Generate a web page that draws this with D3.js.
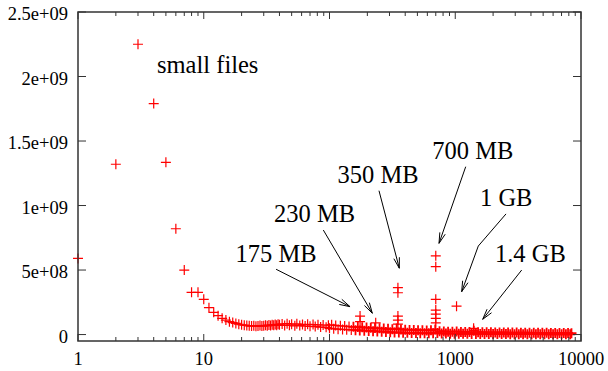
<!DOCTYPE html>
<html>
<head>
<meta charset="utf-8">
<script src="https://cdn.jsdelivr.net/npm/d3@7"></script>
<style>
  body { margin: 0; background: #fff; }
</style>
</head>
<body>
<div id="chart"></div>
<script>
const margin = { top: 12, left: 78, right: 27, bottom: 30 }

const width = 608 - margin.left - margin.right
const height = 371 - margin.top - margin.bottom

const font = '"Liberation Serif"'

// file size (MB) vs bytes
const smallSizes = [
  1, 2, 3, 4, 5, 6, 7, 8, 9, 10,
  11, 12, 13, 14, 15, 16, 17, 18, 19, 20,
  21, 22, 23, 24, 25, 26, 27, 28, 29, 30,
  31, 32, 33, 34, 35, 36, 37, 38, 39, 40
]
const smallCounts = [
  5.9e8, 1.32e9, 2.25e9, 1.79e9, 1.335e9, 8.2e8, 5.0e8, 3.27e8, 3.27e8, 2.73e8,
  2.08e8, 1.72e8, 1.46e8, 1.26e8, 1.12e8, 1.0e8, 9.3e7, 8.6e7, 8.0e7, 7.6e7,
  7.3e7, 7.0e7, 6.8e7, 6.6e7, 6.9e7, 6.5e7, 6.7e7, 7.0e7, 6.6e7, 6.9e7,
  7.2e7, 6.8e7, 7.4e7, 7.0e7, 7.6e7, 7.2e7, 7.8e7, 7.3e7, 8.0e7, 7.5e7
]

const bandSizes = [
  42, 44, 46, 48, 50, 53, 55, 58, 61, 64,
  67, 70, 74, 77, 81, 85, 89, 94, 98, 100,
  104, 108, 112, 117, 122, 127, 132, 137, 143, 149,
  155, 161, 168, 174, 182, 189, 197, 205, 213, 222,
  230, 240, 250, 260, 270, 281, 292, 304, 316, 329,
  342, 356, 370, 385, 400, 416, 433, 450, 468, 487,
  506, 527, 548, 570, 593, 616, 641, 667, 693, 721,
  750, 780, 811, 843, 877, 912, 949, 987, 1026, 1067,
  1110, 1154, 1200, 1248, 1298, 1350, 1404, 1460, 1519, 1580,
  1643, 1709, 1777, 1848, 1922, 1999, 2079, 2162, 2249, 2339,
  2432, 2530, 2631, 2736, 2846, 2959, 3078, 3201, 3329, 3462,
  3600, 3744, 3894, 4050, 4212, 4380, 4555, 4738, 4927, 5124,
  5329, 5542, 5764, 5995, 6234, 6484, 6743, 7013, 7293, 7585,
  7888, 8204, 8400
]
const bandCounts = [
  8.2e7, 7.0e7, 8.4e7, 7.2e7, 8.0e7, 6.8e7, 8.3e7, 7.1e7, 7.8e7, 6.6e7,
  7.9e7, 6.4e7, 7.7e7, 6.2e7, 7.5e7, 5.8e7, 7.4e7, 5.6e7, 7.2e7, 4.8e7,
  7.6e7, 4.4e7, 7.0e7, 4.2e7, 6.8e7, 4.0e7, 6.6e7, 3.8e7, 6.2e7, 3.6e7,
  6.0e7, 3.4e7, 5.8e7, 3.2e7, 5.6e7, 3.0e7, 5.4e7, 2.8e7, 5.2e7, 2.6e7,
  5.0e7, 2.4e7, 4.8e7, 2.2e7, 4.6e7, 2.0e7, 4.4e7, 1.8e7, 4.2e7, 1.6e7,
  4.6e7, 1.5e7, 4.0e7, 1.4e7, 3.8e7, 1.3e7, 3.6e7, 1.2e7, 3.6e7, 1.2e7,
  3.4e7, 1.1e7, 3.4e7, 1.0e7, 3.2e7, 1.0e7, 3.4e7, 1.0e7, 4.0e7, 1.2e7,
  2.6e7, 8e6, 2.4e7, 8e6, 2.2e7, 7e6, 2.2e7, 7e6, 2.4e7, 6e6,
  2.0e7, 6e6, 2.0e7, 6e6, 1.9e7, 5e6, 3.0e7, 5e6, 1.8e7, 5e6,
  1.8e7, 5e6, 1.7e7, 4e6, 1.7e7, 4e6, 1.6e7, 4e6, 1.6e7, 4e6,
  1.6e7, 4e6, 1.5e7, 3e6, 1.5e7, 3e6, 1.5e7, 3e6, 1.4e7, 3e6,
  1.4e7, 3e6, 1.4e7, 3e6, 1.3e7, 3e6, 1.3e7, 3e6, 1.3e7, 2e6,
  1.3e7, 2e6, 1.2e7, 2e6, 1.2e7, 2e6, 1.2e7, 2e6, 1.2e7, 2e6,
  1.2e7, 2e6, 1.0e7
]

// CD / DVD sized spikes
const peakSizes = [175, 175, 233, 350, 350, 350, 350, 350, 700, 700, 700, 700, 700, 700, 700, 1024, 1400]
const peakCounts = [1.43e8, 1.0e8, 9.1e7, 3.63e8, 3.24e8, 1.43e8, 1.12e8, 8.1e7, 6.1e8, 5.26e8, 2.73e8, 1.9e8, 1.59e8, 1.26e8, 9.1e7, 2.2e8, 4.8e7]

const yTicks = [0, 5e8, 1e9, 1.5e9, 2e9, 2.5e9]
const yTickLabels = ['0', '5e+08', '1e+09', '1.5e+09', '2e+09', '2.5e+09']
const xTicks = [1, 10, 100, 1000, 10000]
const xTickLabels = ['1', '10', '100', '1000', '10000']

const labelText = ['small files', '175 MB', '230 MB', '350 MB', '700 MB', '1 GB', '1.4 GB']
const labelX = [4.25, 17.9, 36.2, 116, 657, 1574, 2070]
const labelY = [2.03e9, 5.62e8, 8.72e8, 1.175e9, 1.361e9, 9.96e8, 5.62e8]

const arrows = [
  [[37.6, 5.06e8], [145.6, 2.16e8]],
  [[89.3, 8.1e8], [219, 1.65e8]],
  [[247.5, 1.115e9], [359, 5.14e8]],
  [[1211, 1.301e9], [743, 7.07e8]],
  [[2533, 9.35e8], [1525, 6.86e8], [1125, 3.32e8]],
  [[3376, 5.0e8], [1653, 1.18e8]]
]

const points = []
smallSizes.forEach((s, i) => points.push({ size: s, count: smallCounts[i], band: false }))
bandSizes.forEach((s, i) => points.push({ size: s, count: bandCounts[i], band: s > 150 }))
peakSizes.forEach((s, i) => points.push({ size: s, count: peakCounts[i], band: false }))

const xScale = d3.scaleLog().domain([1, 10000]).range([0, width])
const yScale = d3.scaleLinear().domain([-5e7, 2.5e9]).range([height, 0])

const svg = d3
  .select('#chart')
  .append('svg')
  .attr('width', width + margin.left + margin.right)
  .attr('height', height + margin.top + margin.bottom)
  .append('g')
  .attr('transform', `translate(${margin.left},${margin.top})`)

// points
const m = 5
svg
  .append('g')
  .selectAll('path')
  .data(points)
  .enter()
  .append('path')
  .attr('transform', d => `translate(${xScale(d.size)},${yScale(d.count)})`)
  .attr('d', `M${-m},0H${m}M0,${-m}V${m}`)
  .attr('stroke', '#ff0000')
  .attr('stroke-width', d => (d.band ? 1.8 : 1.2))
  .attr('fill', 'none')

// ticks, mirrored on all four sides
const tickColor = '#333'
const minorX = xScale.ticks().filter(d => !xTicks.includes(d))

svg
  .append('g')
  .selectAll('line')
  .data(minorX)
  .enter()
  .append('line')
  .attr('x1', d => xScale(d))
  .attr('x2', d => xScale(d))
  .attr('y1', height)
  .attr('y2', height - 4)
  .attr('stroke', tickColor)

svg
  .append('g')
  .selectAll('line')
  .data(minorX)
  .enter()
  .append('line')
  .attr('x1', d => xScale(d))
  .attr('x2', d => xScale(d))
  .attr('y1', 0)
  .attr('y2', 4)
  .attr('stroke', tickColor)

xTicks.forEach(t => {
  svg.append('line')
    .attr('x1', xScale(t)).attr('x2', xScale(t))
    .attr('y1', height).attr('y2', height - 7)
    .attr('stroke', tickColor)
  svg.append('line')
    .attr('x1', xScale(t)).attr('x2', xScale(t))
    .attr('y1', 0).attr('y2', 7)
    .attr('stroke', tickColor)
})

yTicks.forEach(t => {
  svg.append('line')
    .attr('x1', 0).attr('x2', 8)
    .attr('y1', yScale(t)).attr('y2', yScale(t))
    .attr('stroke', tickColor)
  svg.append('line')
    .attr('x1', width).attr('x2', width - 8)
    .attr('y1', yScale(t)).attr('y2', yScale(t))
    .attr('stroke', tickColor)
})

// frame
svg
  .append('rect')
  .attr('width', width)
  .attr('height', height)
  .attr('fill', 'none')
  .attr('stroke', tickColor)
  .attr('stroke-width', 1.5)

// tick labels
svg
  .selectAll('.y-label')
  .data(yTicks)
  .enter()
  .append('text')
  .style('font-family', font)
  .attr('x', -10)
  .attr('y', d => yScale(d))
  .attr('dy', 8)
  .attr('text-anchor', 'end')
  .attr('font-size', 18.5)
  .text((d, i) => yTickLabels[i])

svg
  .selectAll('.x-label')
  .data(xTicks)
  .enter()
  .append('text')
  .style('font-family', font)
  .attr('x', d => xScale(d))
  .attr('y', height + 24)
  .attr('text-anchor', 'middle')
  .attr('font-size', 18.5)
  .text((d, i) => xTickLabels[i])

// annotations
svg
  .selectAll('.note')
  .data(labelText)
  .enter()
  .append('text')
  .style('font-family', font)
  .attr('x', (d, i) => xScale(labelX[i]))
  .attr('y', (d, i) => yScale(labelY[i]))
  .attr('font-size', 24.5)
  .text(d => d)

const line = d3
  .line()
  .x(d => xScale(d[0]))
  .y(d => yScale(d[1]))

arrows.forEach(a => {
  svg.append('path')
    .attr('d', line(a))
    .attr('stroke', '#000')
    .attr('stroke-width', 1)
    .attr('fill', 'none')

  // open arrow head
  const p1 = a[a.length - 2]
  const p2 = a[a.length - 1]
  const x1 = xScale(p1[0])
  const y1 = yScale(p1[1])
  const x2 = xScale(p2[0])
  const y2 = yScale(p2[1])
  const ang = Math.atan2(y2 - y1, x2 - x1)
  const len = 11
  const spread = Math.PI / 12
  const hx1 = x2 - len * Math.cos(ang - spread)
  const hy1 = y2 - len * Math.sin(ang - spread)
  const hx2 = x2 - len * Math.cos(ang + spread)
  const hy2 = y2 - len * Math.sin(ang + spread)
  svg.append('path')
    .attr('d', `M${hx1},${hy1}L${x2},${y2}L${hx2},${hy2}`)
    .attr('stroke', '#000')
    .attr('stroke-width', 1)
    .attr('fill', 'none')
})
</script>
</body>
</html>
